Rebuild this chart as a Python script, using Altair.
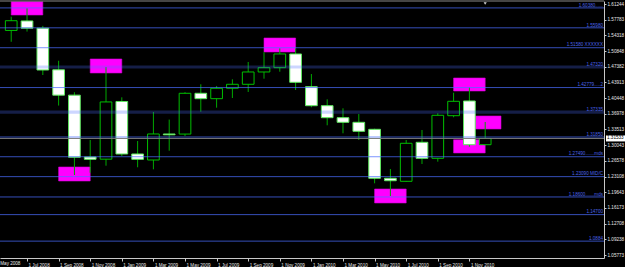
import altair as alt
import pandas as pd

# ---------------- data ----------------
month_idx = list(range(31))  # 0 = Jun 2008 ... 30 = Dec 2010
opens  = [1.5540, 1.5750, 1.5590, 1.4670, 1.4110, 1.2743, 1.2695, 1.3970, 1.2810, 1.2677,
          1.3252, 1.3250, 1.4151, 1.4032, 1.4262, 1.4350, 1.4622, 1.4717, 1.5020, 1.4297,
          1.3877, 1.3612, 1.3510, 1.3355, 1.2273, 1.2206, 1.3068, 1.2714, 1.3656, 1.3981, 1.3015]
highs  = [1.5844, 1.6030, 1.5640, 1.4870, 1.4175, 1.3120, 1.4732, 1.4062, 1.3097, 1.3738,
          1.3570, 1.4175, 1.4350, 1.4312, 1.4460, 1.4843, 1.5060, 1.5145, 1.5140, 1.4577,
          1.4018, 1.3819, 1.3693, 1.3369, 1.2478, 1.3119, 1.3340, 1.3709, 1.4164, 1.4284, 1.3517]
lows   = [1.5290, 1.5515, 1.4555, 1.3880, 1.2345, 1.2396, 1.2551, 1.2765, 1.2516, 1.2471,
          1.2882, 1.3207, 1.3744, 1.3833, 1.4047, 1.4180, 1.4474, 1.4628, 1.4224, 1.3842,
          1.3444, 1.3267, 1.3119, 1.2162, 1.1881, 1.2195, 1.2589, 1.2640, 1.3621, 1.2971, 1.3000]
closes = [1.5755, 1.5590, 1.4666, 1.4110, 1.2737, 1.2692, 1.3960, 1.2810, 1.2692, 1.3252,
          1.3234, 1.4151, 1.4032, 1.4262, 1.4350, 1.4622, 1.4717, 1.5020, 1.4394, 1.3877,
          1.3612, 1.3510, 1.3311, 1.2273, 1.2219, 1.3046, 1.2714, 1.3665, 1.3974, 1.3015, 1.31533]

x_tick_values = [1, 3, 5, 7, 9, 11, 13, 15, 17, 19, 21, 23, 25, 27, 29]
x_tick_labels = ["1 Jul 2008", "1 Sep 2008", "1 Nov 2008", "1 Jan 2009",
                 "1 Mar 2009", "1 May 2009", "1 Jul 2009", "1 Sep 2009", "1 Nov 2009",
                 "1 Jan 2010", "1 Mar 2010", "1 May 2010", "1 Jul 2010", "1 Sep 2010",
                 "1 Nov 2010"]
x_first_value = [-1]
x_first_label = ["1 May 2008"]

y_tick_labels = ["1.61244", "1.57783", "1.54318", "1.50848", "1.47382", "1.43913",
                 "1.40448", "1.36978", "1.33513", "1.30043", "1.26578", "1.23108",
                 "1.19643", "1.16173", "1.12708", "1.09238", "1.05773"]

thin_levels = [1.60380, 1.55980, 1.51580, 1.42779, 1.31850, 1.27490, 1.23090,
               1.18600, 1.14700, 1.08840]
thin_texts = ["1.60380......", "1.55980", "1.51580 XXXXXX", "1.42779.....2", "1.31850",
              "1.27490.......mds", "1.23090  MID/C", "1.18600.......mds", "1.14700", "1.0884"]
thick_levels = [1.47320, 1.37335]
thick_texts = ["1.47320", "1.37335"]

current_price = [1.31533]
shift_marker_month = [30]

rect_t0 = [0, 5, 3, 16, 23, 28, 29, 28]
rect_t1 = [2, 7, 5, 18, 25, 30, 31, 30]
rect_top = [1.6175, 1.4909, 1.2522, 1.5373, 1.2036, 1.4489, 1.3649, 1.3125]
rect_bot = [1.5881, 1.4600, 1.2213, 1.5064, 1.1727, 1.4202, 1.3362, 1.2832]

# ---------------- frames ----------------
candles = pd.DataFrame({"m": month_idx, "open": opens, "high": highs,
                        "low": lows, "close": closes})
candles["lo"] = candles[["open", "close"]].min(axis=1)
candles["hi"] = candles[["open", "close"]].max(axis=1)
candles["bull"] = candles["close"] > candles["open"]

rects = pd.DataFrame({"t0": rect_t0, "t1": rect_t1, "top": rect_top, "bot": rect_bot})
thin = pd.DataFrame({"p": thin_levels, "t": thin_texts})
thick = pd.DataFrame({"p": thick_levels, "t": thick_texts})
cur = pd.DataFrame({"p": current_price, "t": [f"{v:.5f}" for v in current_price]})
first = pd.DataFrame({"m": x_first_value, "t": x_first_label})
shift = pd.DataFrame({"m": shift_marker_month})

FONT = "Liberation Sans"
FS = 4.6
LBL = "#e8e8e8"
AX = "#c8c8c8"

xscale = alt.Scale(domain=[-0.71, 37.52], nice=False, zero=False)
yscale = alt.Scale(domain=[1.05111, 1.61907], nice=False, zero=False)

label_arr = "[" + ",".join(f"'{s}'" for s in x_tick_labels) + "]"
xaxis = alt.Axis(values=x_tick_values, labelExpr=label_arr + "[(datum.value-1)/2]",
                 orient="bottom", labelAlign="left", labelBaseline="middle",
                 labelPadding=4, labelOffset=1, tickSize=3, tickColor=AX,
                 domainColor=AX, labelColor=LBL, labelFont=FONT,
                 labelFontSize=FS, labelOverlap=False, labelFlush=False, grid=False,
                 title=None)
yaxis = alt.Axis(values=[float(v) for v in y_tick_labels], format=".5f", orient="right",
                 labelAlign="left", labelBaseline="middle", labelPadding=1, tickSize=2,
                 tickColor=AX, domainColor=AX, labelColor=LBL,
                 labelFont=FONT, labelFontSize=FS, labelOverlap=False, labelFlush=False,
                 labelBound=False, grid=False, title=None)


def X(field):
    return alt.X(field, scale=xscale, axis=xaxis)


def Y(field):
    return alt.Y(field, scale=yscale, axis=yaxis)


BW = 0.37  # half body width in months

wicks = alt.Chart(candles).mark_rule(color="#00a800", strokeWidth=1).encode(
    x=X("m:Q"), y=Y("low:Q"), y2="high:Q",
)

bodies_bear = alt.Chart(candles).transform_filter("!datum.bull").transform_calculate(
    xa=f"datum.m - {BW}", xb=f"datum.m + {BW}"
).mark_rect(fill="#ffffff", stroke="#5de85d", strokeWidth=1).encode(
    x=X("xa:Q"), x2="xb:Q", y=Y("lo:Q"), y2="hi:Q",
)

bodies_bull = alt.Chart(candles).transform_filter("datum.bull").transform_calculate(
    xa=f"datum.m - {BW}", xb=f"datum.m + {BW}"
).mark_rect(fill="#000000", stroke="#00c000", strokeWidth=1).encode(
    x=X("xa:Q"), x2="xb:Q", y=Y("lo:Q"), y2="hi:Q",
)

boxes = alt.Chart(rects).mark_rect(fill="#ff00ff", stroke="#d000d0", strokeWidth=0.6).encode(
    x=X("t0:Q"), x2="t1:Q", y=Y("bot:Q"), y2="top:Q",
)

thin_lines = alt.Chart(thin).mark_rule(color="#4a6cff", strokeWidth=1, opacity=0.72).encode(
    y=Y("p:Q")
)
thick_lines = alt.Chart(thick).mark_rule(color="#4a6cff", strokeWidth=3.2, opacity=0.28).encode(
    y=Y("p:Q")
)
cur_line = alt.Chart(cur).mark_rule(color="#7a7a7a", strokeWidth=1).encode(
    y=Y("p:Q")
)

level_texts = alt.Chart(pd.concat([thin, thick])).mark_text(
    align="right", baseline="bottom", dy=-0.3, font=FONT, fontSize=FS, color="#4a64e8"
).encode(
    x=alt.value(603), y=Y("p:Q"), text="t:N"
)

first_label = alt.Chart(first).mark_text(
    align="left", baseline="middle", dx=1, font=FONT, fontSize=FS, color=LBL
).encode(x=X("m:Q"), y=alt.value(262.5), text="t:N")

top_line = alt.Chart(cur).mark_rule(color="#8a8a8a", strokeWidth=1).encode(y=alt.value(0))

shift_marker = alt.Chart(shift).mark_point(
    shape="triangle-down", filled=True, color="#d0d0d0", size=10, opacity=1
).encode(x=X("m:Q"), y=alt.value(2.5))

price_box = alt.Chart(cur).mark_tick(orient="horizontal", color="#ffffff", size=19,
                                     thickness=6, opacity=1).encode(
    x=alt.value(615.5), y=Y("p:Q")
)
price_text = alt.Chart(cur).mark_text(align="left", baseline="middle", font=FONT,
                                      fontSize=FS, color="#000000").encode(
    x=alt.value(607), y=Y("p:Q"), text="t:N"
)

chart = alt.layer(
    boxes, wicks, bodies_bear, bodies_bull, thick_lines, thin_lines, cur_line,
    level_texts, first_label, top_line, shift_marker, price_box, price_text
).properties(
    width=604, height=257,
    padding={"left": 0, "top": 1, "right": 21, "bottom": 9},
    autosize="none",
    background="#000000",
).configure_view(stroke="transparent").configure_axis(labelOverlap=False)

chart.save("out.html", embed_options={"renderer": "svg", "actions": False})
